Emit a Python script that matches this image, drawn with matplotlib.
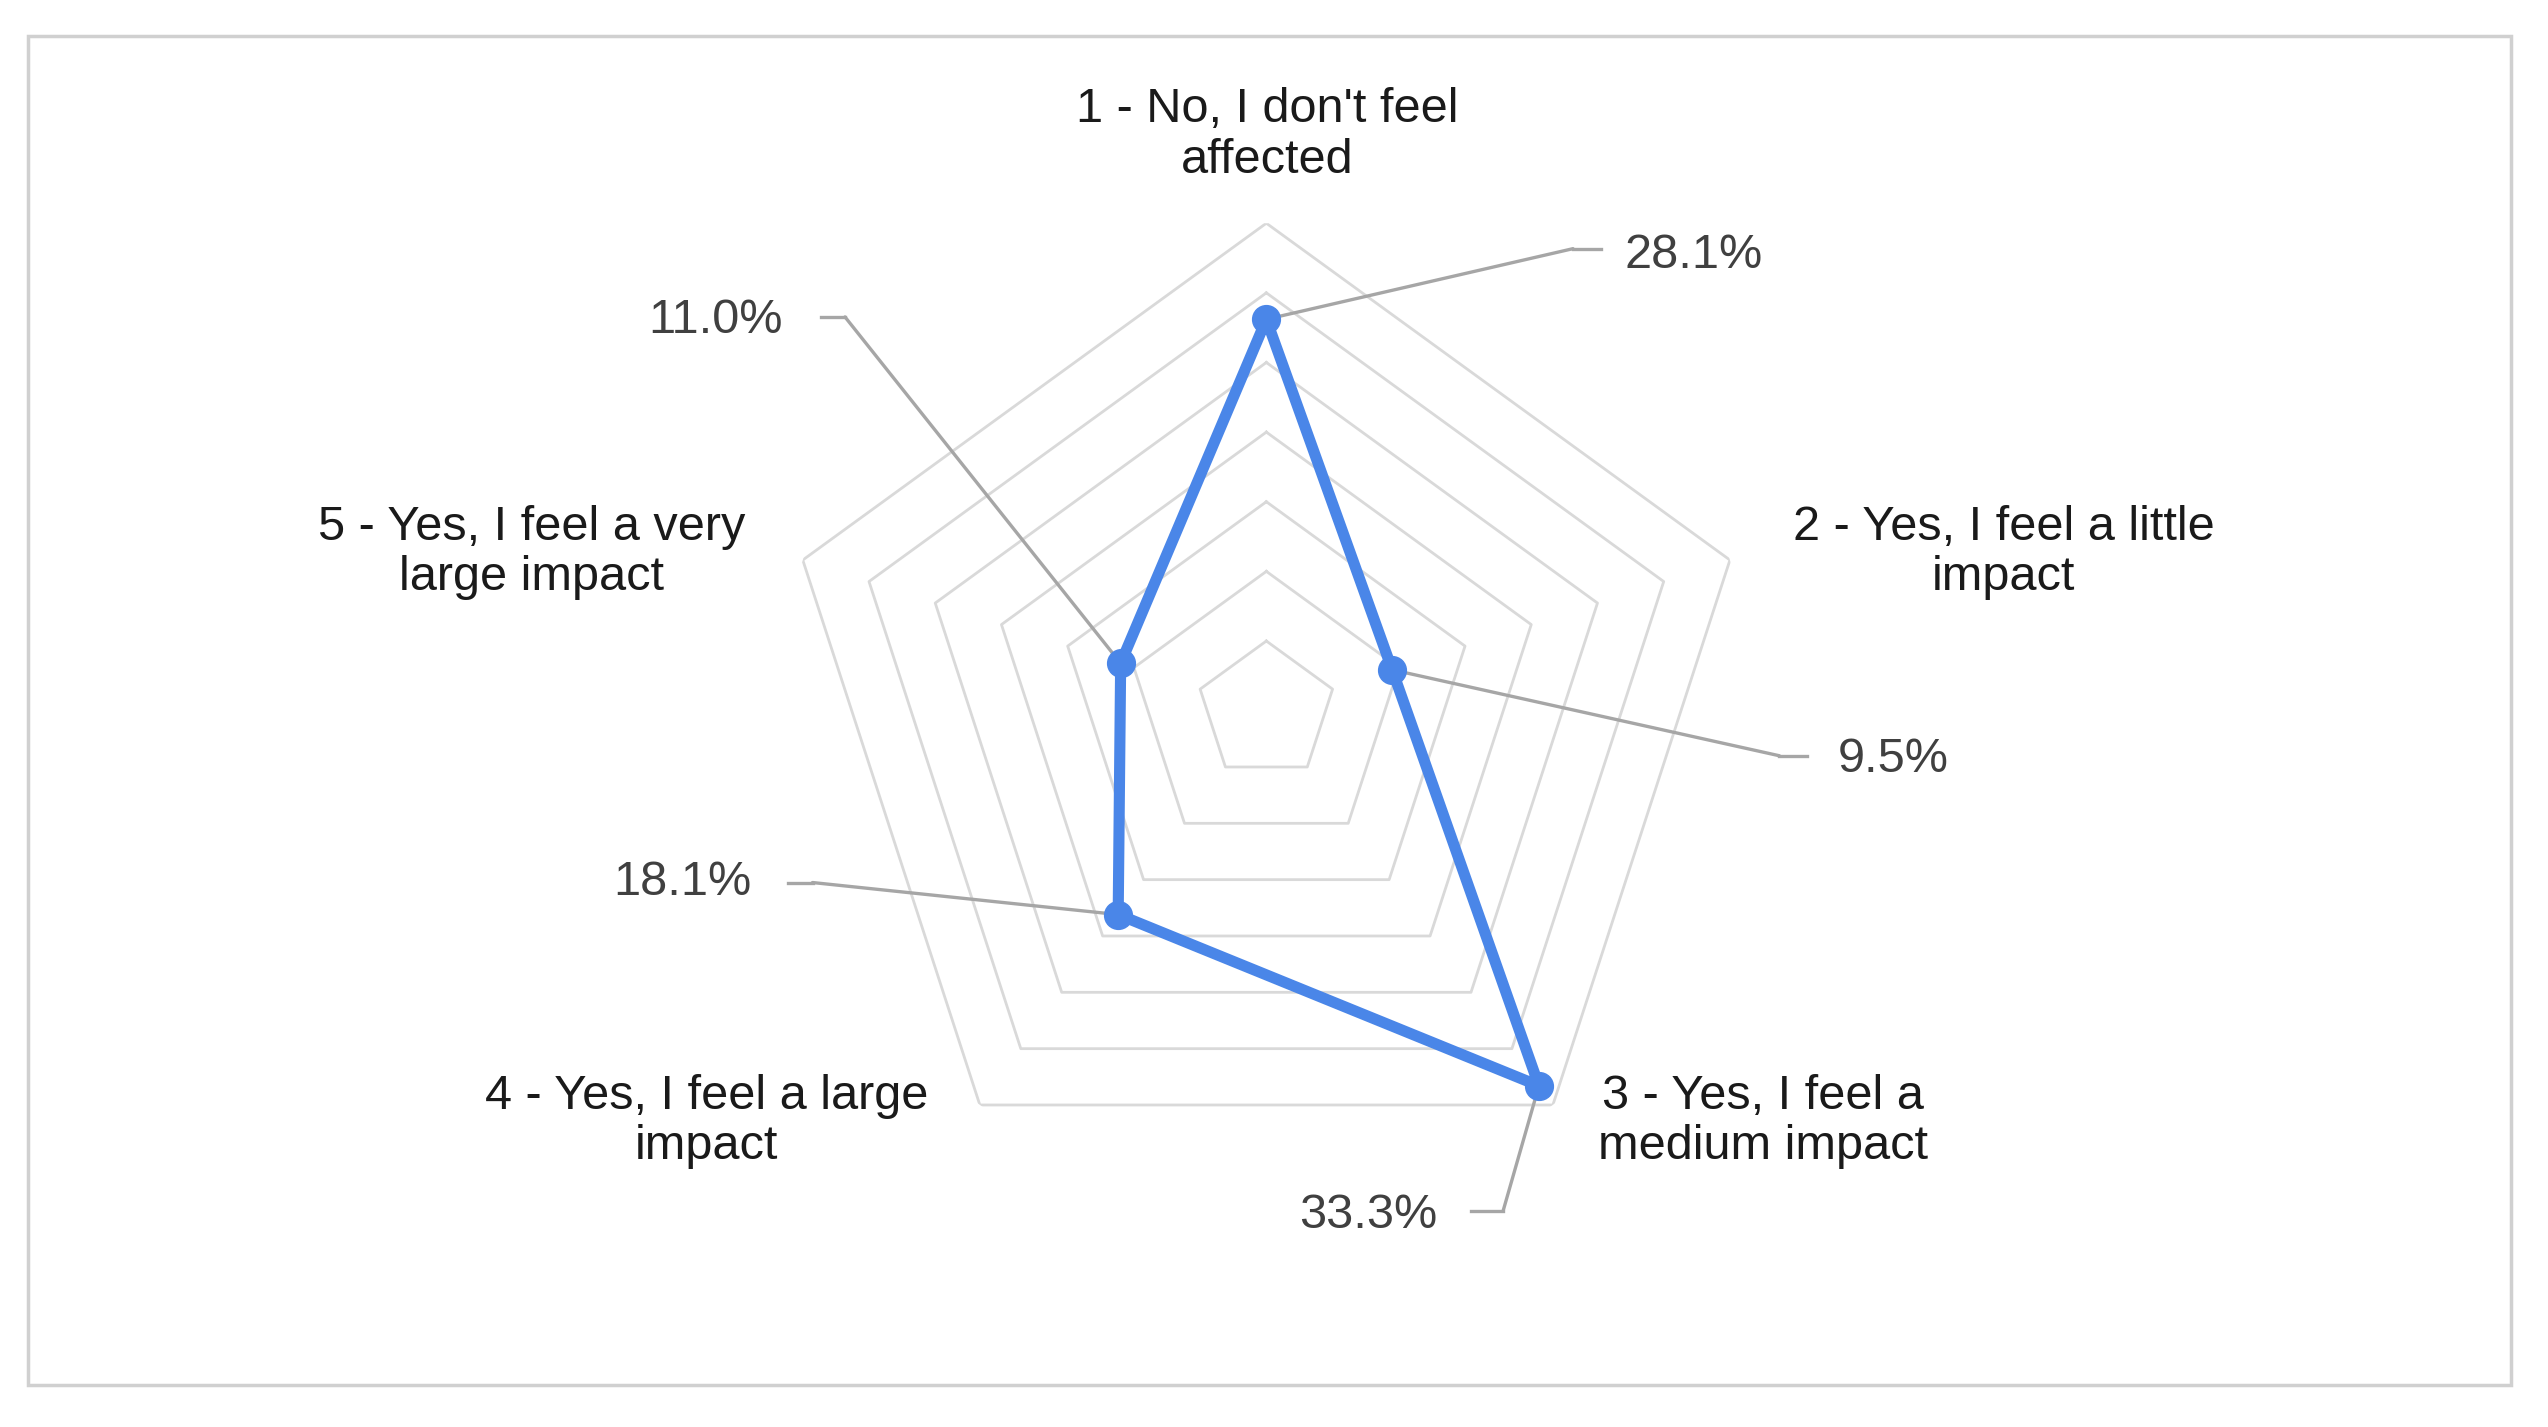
import numpy as np
import matplotlib
matplotlib.use("Agg")
import matplotlib.pyplot as plt
from matplotlib.patches import Rectangle
from matplotlib.lines import Line2D

categories = ["1 - No, I don't feel\naffected", "2 - Yes, I feel a little\nimpact",
              "3 - Yes, I feel a\nmedium impact", "4 - Yes, I feel a large\nimpact",
              "5 - Yes, I feel a very\nlarge impact"]
values = [28.1, 9.5, 33.3, 18.1, 11.0]
value_labels = ["28.1%", "9.5%", "33.3%", "18.1%", "11.0%"]
rings = [5, 10, 15, 20, 25, 30, 35]

plt.rcParams['font.family'] = ['Liberation Sans', 'DejaVu Sans']
W, H = 1568, 878
def F(x, y):
    return (x / W, 1 - y / H)

fig = plt.figure(figsize=(25.48, 14.27), dpi=100)
fig.patches.append(Rectangle(F(17, 852), (1545 - 17) / W, (852 - 22) / H, transform=fig.transFigure,
                             fill=False, edgecolor='#d0d0d0', linewidth=2.5))
cx, cy = 0.497, 0.502
ax = fig.add_axes([cx - 0.1913, cy - 0.3417, 0.3826, 0.6834], projection='polar')
ax.set_theta_zero_location('N')
ax.set_theta_direction(-1)
ax.set_ylim(0, 35)
ax.axis('off')
n = len(values)
th = np.linspace(0, 2 * np.pi, n, endpoint=False)
thc = np.append(th, th[0])
for r in rings:
    ax.plot(thc, [r] * (n + 1), color='#d9d9d9', lw=2, zorder=1)
ax.plot(thc, values + [values[0]], color='#4a86e8', lw=8, zorder=3, solid_joinstyle='round')
ax.plot(th, values, 'o', color='#4a86e8', ms=20, zorder=4)

cat_pos = [(780, 83), (1233, 340), (1085, 690), (435, 690), (327, 340)]
for c, (x, y) in zip(categories, cat_pos):
    fig.text(*F(x, y), c, ha='center', va='center', fontsize=35, color='#1a1a1a', linespacing=1.15)

lab = [((1042, 157), (968, 153), (985, 153)),
       ((1165, 467), (1095, 465), (1112, 465)),
       ((842, 748), (925, 745), (905, 745)),
       ((420, 543), (500, 543), (485, 543)),
       ((440, 197), (520, 195), (505, 195))]
for i, ((tx, ty), e, s) in enumerate(lab):
    fig.text(*F(tx, ty), value_labels[i], ha='center', va='center', fontsize=35, color='#404040')
    ax.annotate('', xy=(th[i], values[i]), xytext=F(*e), textcoords='figure fraction',
                arrowprops=dict(arrowstyle='-', color='#a6a6a6', lw=2.4, shrinkA=0, shrinkB=0), zorder=2)
    fig.add_artist(Line2D([F(*e)[0], F(*s)[0]], [F(*e)[1], F(*s)[1]], transform=fig.transFigure,
                          color='#a6a6a6', lw=2.4))

fig.savefig('out.png', dpi=100)
